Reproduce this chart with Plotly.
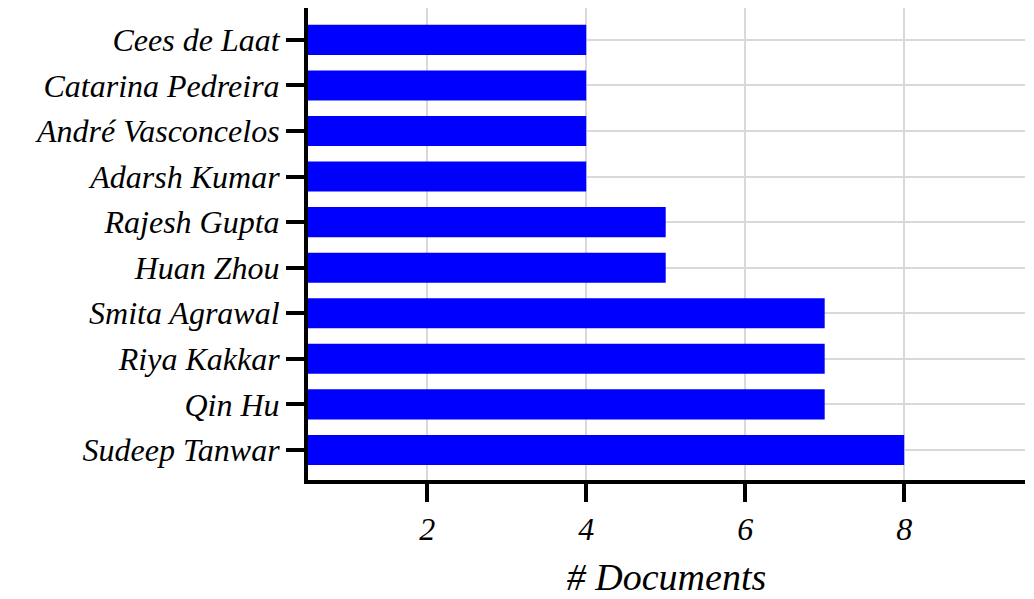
import plotly.graph_objects as go

authors = [
    "Sudeep Tanwar", "Qin Hu", "Riya Kakkar", "Smita Agrawal", "Huan Zhou",
    "Rajesh Gupta", "Adarsh Kumar", "André Vasconcelos", "Catarina Pedreira", "Cees de Laat",
]
documents = [8, 7, 7, 7, 5, 5, 4, 4, 4, 4]
x_ticks = [2, 4, 6, 8]

font = dict(family="Liberation Serif", size=32, color="black")

fig = go.Figure()

fig.add_trace(
    go.Bar(
        x=documents,
        y=authors,
        orientation="h",
        width=0.66,
        marker=dict(color="#0000FF", line=dict(width=0)),
        showlegend=False
    )
)

# page body has an 8px margin, so the figure is sized to fit inside the window
fig.update_layout(
    width=1026,
    height=591,
    paper_bgcolor="white",
    plot_bgcolor="white",
    margin=dict(l=300, r=9, t=0, b=119),
    font=font,
    xaxis=dict(
        range=[0.5, 9.52],
        tickvals=x_ticks,
        ticktext=[f"<i>{t}</i>" for t in x_ticks],
        showgrid=True,
        gridcolor="#d9d9d9",
        gridwidth=2,
        showline=True,
        linecolor="black",
        linewidth=4,
        ticks="outside",
        ticklen=18,
        tickwidth=4,
        tickcolor="black",
        zeroline=False,
        title=dict(text="<i># Documents</i>", standoff=18),
    ),
    yaxis=dict(
        categoryorder="array",
        categoryarray=authors,
        range=[-0.66, 9.70],
        tickvals=authors,
        ticktext=[f"<i>{a}</i>" for a in authors],
        showgrid=True,
        gridcolor="#d9d9d9",
        gridwidth=2,
        showline=True,
        linecolor="black",
        linewidth=4,
        ticks="outside",
        ticklen=18,
        tickwidth=4,
        tickcolor="black",
        zeroline=False,
    ),
)

fig.write_html("out.html")
